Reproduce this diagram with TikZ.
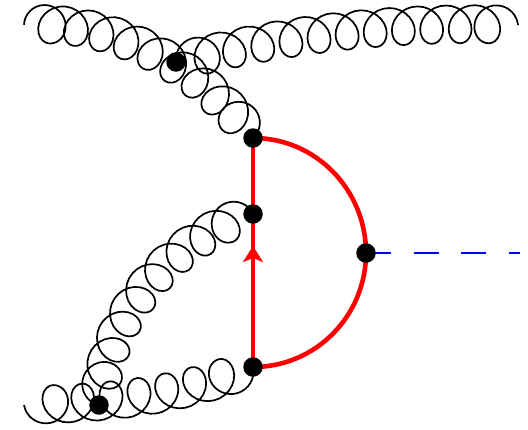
\documentclass[tikz,border=0pt]{standalone}
\usetikzlibrary{arrows.meta,backgrounds,calc}

\def\xunit{1pt}
\def\yunit{-1pt}
\def\coilx{18}
\def\coily{19}

\tikzset{
  vertex/.style={circle, fill=black, inner sep=0pt, minimum size=19.5pt},
  gluon/.style={black, line width=1.7pt, line join=round},
  heavy/.style={red, line width=4.6pt},
  higgs/.style={blue, line width=2.6pt, dash pattern=on 25pt off 22.5pt},
  declare function={
    bz(\u,\a,\b,\c,\d)=(1-\u)*(1-\u)*(1-\u)*\a+3*(1-\u)*(1-\u)*\u*\b+3*(1-\u)*\u*\u*\c+\u*\u*\u*\d;
    dz(\u,\a,\b,\c,\d)=3*(1-\u)*(1-\u)*(\b-\a)+6*(1-\u)*\u*(\c-\b)+3*\u*\u*(\d-\c);
    gw(\v,\n)=max(1-\v,0)-max(\v-\n,0);
  },
}

% gluon from #1 to #4 along a curve with controls #2, #3 and #5 loops
\newcommand{\gluonline}[5]{
  \def\gluonw{gw((#5+1)*\t,#5)}
  \def\gluonphi{(360*(#5+1)*\t-90+90*\gluonw)}
  \draw[gluon] let \p1=#1, \p2=#2, \p3=#3, \p4=#4 in
    plot[variable=\t, domain=0:1, samples=\numexpr 24*#5+25\relax]
    ({(bz(\t,\x1,\x2,\x3,\x4)
      +(\coilx*(\gluonw-cos(\gluonphi))*dz(\t,\x1,\x2,\x3,\x4)
        +\coily*sin(\gluonphi)*dz(\t,\y1,\y2,\y3,\y4))
       /veclen(dz(\t,\x1,\x2,\x3,\x4),dz(\t,\y1,\y2,\y3,\y4)))*1pt},
     {(bz(\t,\y1,\y2,\y3,\y4)
      +(\coilx*(\gluonw-cos(\gluonphi))*dz(\t,\y1,\y2,\y3,\y4)
        -\coily*sin(\gluonphi)*dz(\t,\x1,\x2,\x3,\x4))
       /veclen(dz(\t,\x1,\x2,\x3,\x4),dz(\t,\y1,\y2,\y3,\y4)))*1pt});
}

\begin{document}
\begin{tikzpicture}[x=\xunit, y=\yunit]
\useasboundingbox (0,0) rectangle (528,429);

% ---- vertices ----
\node[vertex] (top) at (253,138) {};
\node[vertex] (mid) at (253,214) {};
\node[vertex] (bot) at (253,367) {};
\node[vertex] (right) at (366,253) {};
\node[vertex] (upper) at (176,62) {};
\node[vertex] (lower) at (99,405) {};

% ---- free ends ----
\coordinate (gluonTL) at (24,25);
\coordinate (gluonTR) at (518,25);
\coordinate (gluonBL) at (24,405);
\coordinate (higgsEnd) at (520,253);
\coordinate (arrowtip) at (253,246);

\begin{scope}[on background layer]
% ---- gluons ----
\gluonline{(top.center)}{(201,66)}{(112,18)}{(gluonTL)}{9}
\gluonline{(gluonTR)}{(401,21)}{(292,32)}{(upper.center)}{11}
\gluonline{(mid.center)}{(169,239)}{(105,317)}{(lower.center)}{8}
\gluonline{(gluonBL)}{(105,403)}{(175,398)}{(bot.center)}{7}

% ---- heavy quark loop ----
\draw[heavy] (bot.center) -- (top.center);
\draw[heavy, -{Stealth[length=16pt, width=20pt, inset=4pt]}] (bot.center) -- (arrowtip);
\draw[heavy] (top.center) to[out=0, in=90] (right.center);
\draw[heavy] (right.center) to[out=-90, in=0] (bot.center);

% ---- scalar ----
\draw[higgs] (right.center) -- (higgsEnd);
\end{scope}
\end{tikzpicture}
\end{document}
